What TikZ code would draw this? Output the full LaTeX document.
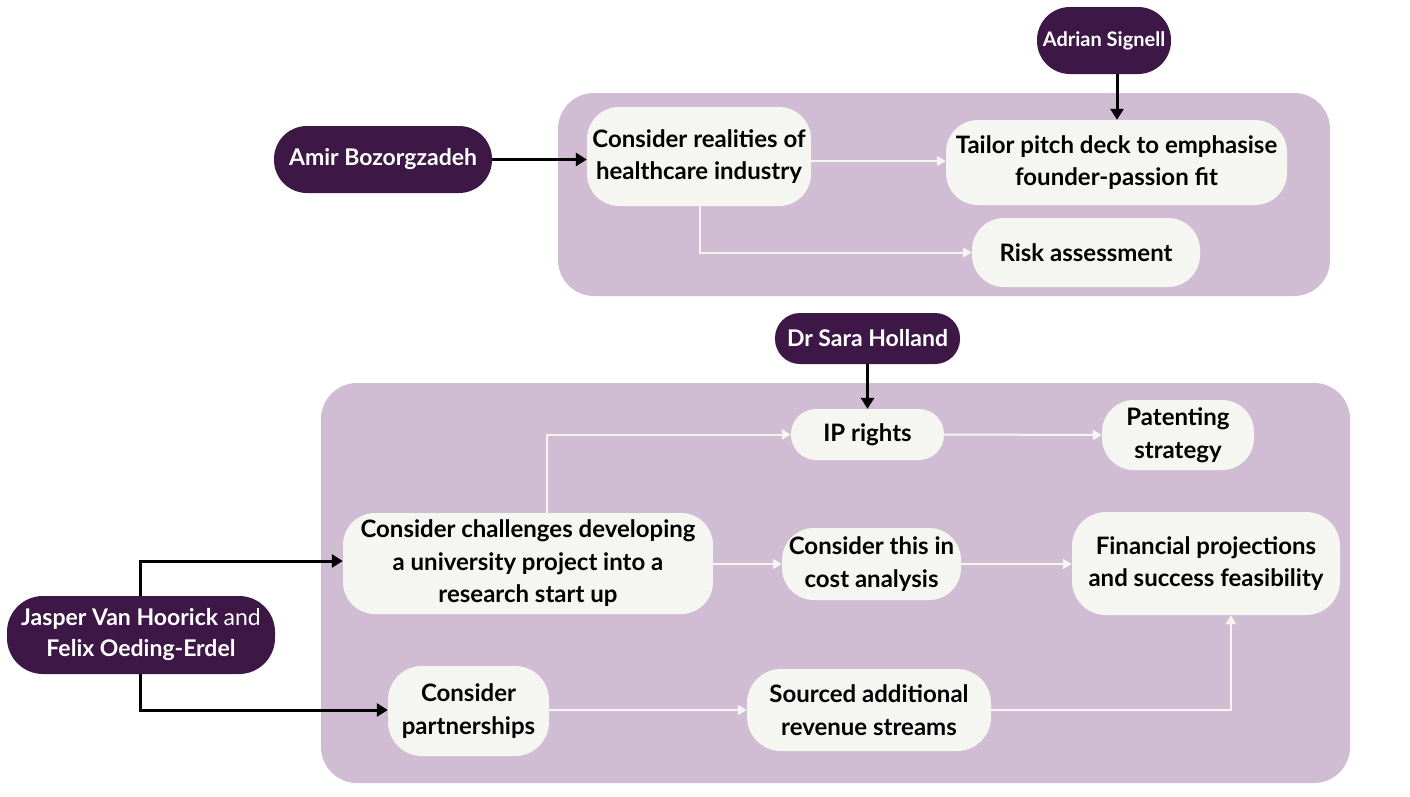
\documentclass[tikz,border=0pt]{standalone}
\usepackage{fontspec}
\setmainfont{Lato}
\usetikzlibrary{arrows.meta}
\definecolor{panel}{HTML}{D0BCD3}
\definecolor{dark}{HTML}{3D1846}
\definecolor{light}{HTML}{F5F6F1}
\tikzset{
  person/.style={fill=dark, text=white, font=\fontsize{23}{31}\selectfont\bfseries, align=center, inner sep=0pt},
  stepbox/.style={fill=light, text=black, font=\fontsize{24}{32.5}\selectfont\bfseries, align=center, inner sep=0pt, rounded corners=26pt},
  blk/.style={draw=black, line width=3pt, -{Triangle[length=11pt,width=13pt]}},
  wht/.style={draw=light, line width=2pt, -{Triangle[length=9pt,width=10pt]}},
}
\begin{document}
\begin{tikzpicture}[x=1pt,y=-1pt]
\useasboundingbox (0,0) rectangle (1410,796);
% panels
\fill[panel, rounded corners=36pt] (558,93) rectangle (1330,296);
\fill[panel, rounded corners=36pt] (321,383) rectangle (1350,783);

% top section nodes
\node[person, rounded corners=33pt, minimum width=218pt, minimum height=67pt] (amir) at (383,159.5) {Amir Bozorgzadeh};
\node[person, rounded corners=33pt, minimum width=134pt, minimum height=67pt, font=\fontsize{20}{28}\selectfont\bfseries] (adrian) at (1104,40.5) {Adrian Signell};
\node[stepbox, minimum width=224pt, minimum height=99pt, rounded corners=32pt] (real) at (699,156.5) {Consider realities of\\healthcare industry};
\node[stepbox, minimum width=341pt, minimum height=85pt, rounded corners=32pt] (tailor) at (1116.5,162.5) {Tailor pitch deck to emphasise\\founder-passion fit};
\node[stepbox, minimum width=228pt, minimum height=69pt, rounded corners=32pt] (risk) at (1086,252.5) {Risk assessment};

% bottom section nodes
\node[person, rounded corners=25pt, minimum width=185pt, minimum height=51pt] (sara) at (867.5,338.5) {Dr Sara Holland};
\node[person, rounded corners=36pt, minimum width=268pt, minimum height=78pt] (jasper) at (141,635) {Jasper Van Hoorick \mdseries and\\Felix Oeding-Erdel};
\node[stepbox, minimum width=153pt, minimum height=51pt, rounded corners=25pt] (ip) at (867.5,434.5) {IP rights};
\node[stepbox, minimum width=152pt, minimum height=70pt, rounded corners=32pt] (patent) at (1178,435) {Patenting\\strategy};
\node[stepbox, minimum width=370pt, minimum height=101pt, rounded corners=32pt] (chall) at (528,563.5) {Consider challenges developing\\a university project into a\\research start up};
\node[stepbox, minimum width=179pt, minimum height=72pt, rounded corners=32pt] (cost) at (871.5,564) {Consider this in\\cost analysis};
\node[stepbox, minimum width=268pt, minimum height=103pt, rounded corners=34pt] (fin) at (1206,563.5) {Financial projections\\and success feasibility};
\node[stepbox, minimum width=161pt, minimum height=90pt, rounded corners=34pt] (part) at (468.5,711) {Consider\\partnerships};
\node[stepbox, minimum width=244pt, minimum height=82pt, rounded corners=34pt] (src) at (869,710) {Sourced additional\\revenue streams};

% black connectors
\draw[blk] (amir.east) -- (real.west |- amir.east);
\draw[blk] (adrian.south -| 1117,0) -- (tailor.north -| 1117,0);
\draw[blk] (sara.south) -- (ip.north);
\draw[blk] (jasper.north -| 140,0) |- (chall.west |- 0,561);
\draw[blk] (jasper.south -| 140,0) |- (part.west |- 0,710);

% white connectors
\draw[wht] (real.east |- 0,161) -- (tailor.west |- 0,161);
\draw[wht] (real.south -| 700,0) |- (risk.west);
\draw[wht] (chall.north -| 547,0) |- (ip.west);
\draw[wht] (ip.east) -- (patent.west);
\draw[wht] (chall.east |- cost.west) -- (cost.west);
\draw[wht] (cost.east) -- (fin.west |- cost.east);
\draw[wht] (part.east |- 0,710) -- (src.west |- 0,710);
\draw[wht] (src.east) -| (fin.south -| 1231,0);
\end{tikzpicture}
\end{document}
